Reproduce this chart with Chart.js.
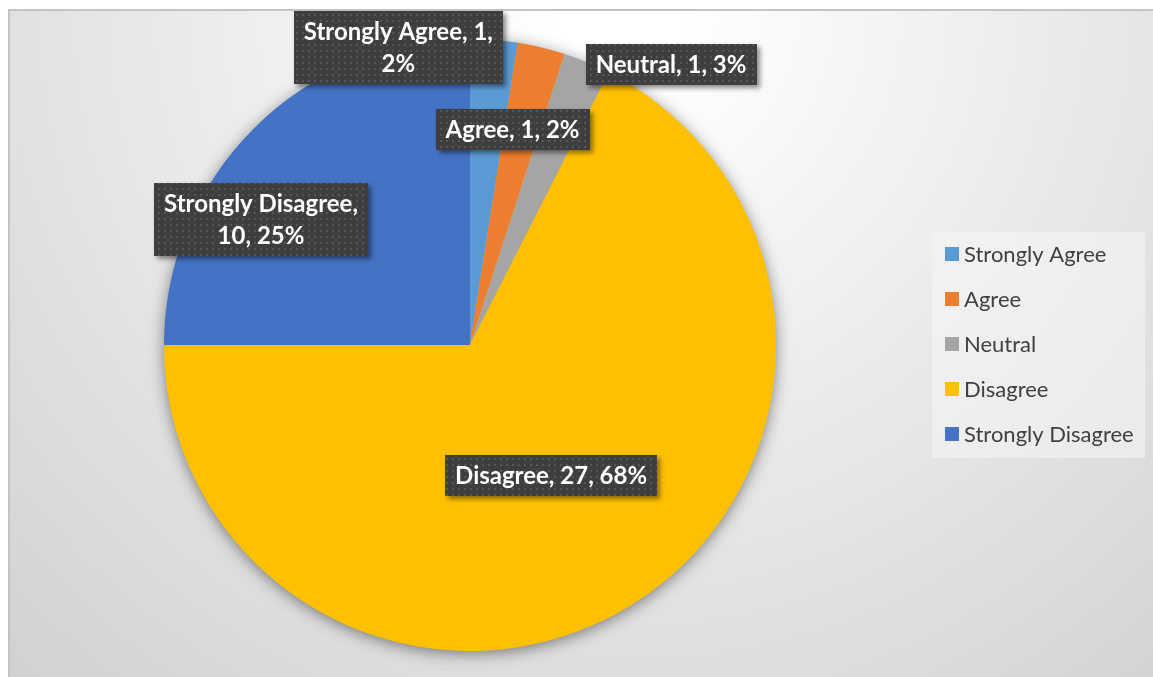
<!DOCTYPE html>
<html>
<head>
<meta charset="utf-8">
<script src="https://cdn.jsdelivr.net/npm/chart.js@4/dist/chart.umd.min.js"></script>
<style>
  body { margin: 0; background: #fff; overflow: hidden; }
  #wrap { position: relative; width: 1153px; height: 677px; }
  #frame {
    position: absolute; left: 8px; top: 9px; width: 1160px; height: 700px;
    border-left: 2px solid #c4c4c4; border-top: 2px solid #c4c4c4;
    background: radial-gradient(circle 920px at 610px 0px, #ffffff 6%, #d0d0d0 100%);
  }
  #chart { position: absolute; left: 0; top: 0; }
</style>
</head>
<body>
<div id="wrap">
  <div id="frame"></div>
  <canvas id="chart" width="1153" height="677"></canvas>
</div>
<script>
const categories = ['Strongly Agree', 'Agree', 'Neutral', 'Disagree', 'Strongly Disagree'];
const responses = [1, 1, 1, 27, 10];
const percentLabels = ['2%', '2%', '3%', '68%', '25%'];
const sliceColors = ['#5B9BD5', '#ED7D31', '#A5A5A5', '#FFC000', '#4472C4'];

// label centres, in units of the pie radius from the pie centre
const labelSpots = [[-0.234, -0.972], [0.139, -0.704], [0.657, -0.918], [0.265, 0.426], [-0.683, -0.41]];

const LABEL_FONT = 'bold 24px Lato';
const LEGEND_FONT = '22px Lato';

function dotPattern(ctx) {
  const c = document.createElement('canvas');
  c.width = 6; c.height = 6;
  const p = c.getContext('2d');
  p.fillStyle = '#3e3e3e';
  p.fillRect(0, 0, 6, 6);
  p.fillStyle = '#565656';
  p.fillRect(2, 2, 2, 2);
  return ctx.createPattern(c, 'repeat');
}

function wrapText(ctx, text, maxW) {
  const words = text.split(' ');
  const lines = [];
  let line = '';
  words.forEach(w => {
    const test = line ? line + ' ' + w : w;
    if (line && ctx.measureText(test).width > maxW) {
      lines.push(line);
      line = w;
    } else {
      line = test;
    }
  });
  lines.push(line);
  return lines;
}

const pieShadow = {
  id: 'pieShadow',
  beforeDatasetsDraw(chart) {
    const arc = chart.getDatasetMeta(0).data[0];
    const ctx = chart.ctx;
    ctx.save();
    ctx.shadowColor = 'rgba(0,0,0,0.5)';
    ctx.shadowBlur = 16;
    ctx.shadowOffsetY = 3;
    ctx.fillStyle = sliceColors[3];
    ctx.beginPath();
    ctx.arc(arc.x, arc.y, arc.outerRadius - 1, 0, Math.PI * 2);
    ctx.fill();
    ctx.restore();
  }
};

const sliceLabels = {
  id: 'sliceLabels',
  afterDatasetsDraw(chart) {
    const ctx = chart.ctx;
    const arcs = chart.getDatasetMeta(0).data;
    const pattern = dotPattern(ctx);
    ctx.save();
    ctx.font = LABEL_FONT;
    ctx.textAlign = 'center';
    ctx.textBaseline = 'middle';
    arcs.forEach((arc, i) => {
      const text = categories[i] + ', ' + responses[i] + ', ' + percentLabels[i];
      const lines = wrapText(ctx, text, 215);
      const w = Math.max(...lines.map(l => ctx.measureText(l).width)) + 20;
      const lh = 32;
      const h = lines.length * lh + 9;
      const cx = arc.x + labelSpots[i][0] * arc.outerRadius;
      const cy = arc.y + labelSpots[i][1] * arc.outerRadius;
      ctx.save();
      ctx.shadowColor = 'rgba(0,0,0,0.45)';
      ctx.shadowBlur = 5;
      ctx.shadowOffsetX = 3;
      ctx.shadowOffsetY = 3;
      ctx.fillStyle = pattern;
      ctx.fillRect(Math.round(cx - w / 2), Math.round(cy - h / 2), Math.round(w), h);
      ctx.restore();
      ctx.fillStyle = '#ffffff';
      lines.forEach((l, k) => {
        ctx.fillText(l, cx, cy - (lines.length - 1) * lh / 2 + k * lh + 1);
      });
    });
    ctx.restore();
  }
};

const sideLegend = {
  id: 'sideLegend',
  afterDraw(chart) {
    const ctx = chart.ctx;
    const left = 932, top = 232, width = 213, rowH = 45;
    ctx.save();
    ctx.fillStyle = 'rgba(245,245,245,0.55)';
    ctx.fillRect(left, top, width, categories.length * rowH + 1);
    ctx.font = LEGEND_FONT;
    ctx.textBaseline = 'middle';
    categories.forEach((c, i) => {
      const y = top + 22 + i * rowH;
      ctx.fillStyle = sliceColors[i];
      ctx.fillRect(left + 13, y - 7, 14, 14);
      ctx.fillStyle = '#404040';
      ctx.fillText(c, left + 32, y + 1);
    });
    ctx.restore();
  }
};

new Chart(document.getElementById('chart'), {
  type: 'pie',
  data: {
    labels: categories,
    datasets: [{
      data: responses,
      backgroundColor: sliceColors,
      borderWidth: 0
    }]
  },
  options: {
    responsive: false,
    animation: false,
    layout: { padding: { left: 164, right: 377, top: 39, bottom: 26 } },
    plugins: {
      legend: { display: false },
      tooltip: { enabled: false }
    }
  },
  plugins: [pieShadow, sliceLabels, sideLegend]
});
</script>
</body>
</html>
